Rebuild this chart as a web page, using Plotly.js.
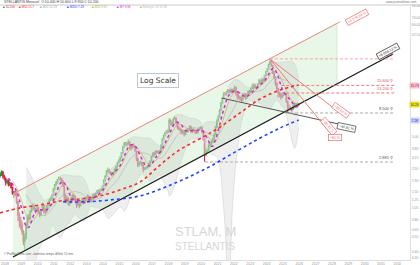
<!DOCTYPE html>
<html><head><meta charset="utf-8">
<script src="https://cdn.plot.ly/plotly-3.0.1.min.js"></script>
<style>html,body{margin:0;padding:0;background:#fff}#chart{width:420px;height:265px}</style>
</head><body><div id="chart"></div>
<script>
// ---------- DATA (monthly, STLAM, from Sep 2007) ----------
const startYear = 2007, startMonth = 9;
const firstOpen = 2.15;
const close = [
 2.20,2.32,2.10,2.02,
 1.85,1.90,1.75,1.80,1.65,1.45,1.40,1.48,1.20,0.90,0.80,0.72,
 0.62,0.50,0.55,0.72,0.85,0.82,0.98,1.05,1.10,1.02,0.98,1.05,
 0.95,0.90,1.00,1.12,0.98,0.96,1.10,1.12,1.25,1.30,1.38,1.60,
 1.75,1.85,1.95,2.05,2.00,1.90,1.70,1.35,1.25,1.30,1.15,1.18,
 1.30,1.38,1.35,1.22,1.12,1.15,1.10,1.20,1.25,1.18,1.25,1.30,
 1.35,1.28,1.22,1.30,1.40,1.38,1.45,1.52,1.50,1.55,1.58,1.70,
 1.92,2.10,2.35,2.40,2.30,2.25,2.20,2.30,2.45,2.60,2.85,3.00,
 3.20,3.55,4.00,4.35,4.25,4.40,4.45,4.10,3.95,4.20,4.05,3.70,
 3.10,2.70,2.80,2.85,2.70,2.45,2.50,2.55,2.60,2.80,2.95,3.25,
 3.50,3.40,3.65,3.60,3.55,3.70,4.20,4.80,5.20,5.50,5.70,5.60,
 7.20,6.90,6.60,7.50,7.60,6.80,6.20,6.00,5.90,5.50,5.70,5.30,
 5.60,5.90,5.80,6.30,5.60,5.90,5.80,5.60,5.50,5.90,6.10,6.20,
 5.60,4.80,3.50,3.60,3.70,4.10,4.30,4.50,4.80,5.30,6.20,7.20,
 7.80,9.00,10.50,11.80,13.00,12.80,13.50,14.00,13.40,14.20,13.60,14.30,
 14.80,13.20,12.20,11.90,11.70,11.30,12.50,12.80,11.80,12.90,13.70,13.40,
 14.60,15.50,15.80,14.90,14.60,16.10,17.50,16.50,17.80,17.20,19.50,21.20,
 22.50,24.80,26.20,24.00,20.50,18.50,16.30,14.50,13.20,12.80,12.00,12.60,
 12.80,12.80,11.00,9.60,9.20,9.50,9.30,10.00,10.30,10.00,10.40,10.20];
const high = [
 2.30,2.40,2.35,2.18,
 2.05,1.98,1.95,1.88,1.85,1.68,1.52,1.55,1.50,1.22,0.95,0.86,
 0.78,0.64,0.60,0.76,0.90,0.92,1.00,1.10,1.16,1.14,1.05,1.08,
 1.08,0.98,1.03,1.18,1.13,1.04,1.12,1.18,1.28,1.35,1.42,1.62,
 1.78,1.90,1.98,2.10,2.08,2.02,1.94,1.72,1.42,1.38,1.33,1.24,
 1.34,1.42,1.44,1.38,1.25,1.20,1.18,1.24,1.32,1.30,1.28,1.35,
 1.42,1.40,1.32,1.33,1.45,1.46,1.48,1.56,1.58,1.60,1.62,1.72,
 1.98,2.15,2.42,2.55,2.48,2.36,2.30,2.34,2.52,2.66,2.90,3.10,
 3.30,3.60,4.10,4.50,4.48,4.52,4.75,4.55,4.20,4.30,4.35,4.10,
 3.72,3.15,2.92,2.98,2.92,2.75,2.55,2.62,2.65,2.86,3.00,3.30,
 3.58,3.62,3.72,3.75,3.68,3.78,4.30,4.90,5.30,5.62,5.85,5.90,
 7.60,7.40,7.10,7.60,7.90,7.70,6.95,6.40,6.20,6.00,5.90,5.85,
 5.75,6.05,6.05,6.50,6.40,6.05,6.10,5.95,5.75,6.00,6.25,6.35,
 6.30,5.75,4.90,3.95,3.85,4.40,4.45,4.65,4.95,5.45,6.40,7.40,
 8.20,9.30,10.80,12.00,13.40,13.50,13.80,14.40,14.30,14.50,14.60,14.50,
 15.60,15.20,13.70,13.00,12.40,12.30,12.70,13.30,13.10,13.10,14.00,14.10,
 14.90,16.20,16.40,16.20,15.30,16.30,18.10,17.80,18.50,18.20,19.70,21.40,
 22.80,25.30,28.00,27.50,24.40,21.30,19.20,16.80,14.80,13.60,13.20,12.90,
 13.50,13.60,13.20,11.20,10.30,9.90,9.60,10.20,10.60,10.60,10.70,10.60];
const low = [
 2.05,2.12,2.00,1.92,
 1.72,1.78,1.68,1.70,1.60,1.40,1.30,1.36,1.15,0.78,0.68,0.65,
 0.58,0.46,0.42,0.52,0.70,0.78,0.80,0.95,1.00,0.98,0.92,0.96,
 0.92,0.85,0.88,0.98,0.93,0.90,0.94,1.05,1.08,1.22,1.25,1.36,
 1.55,1.70,1.78,1.92,1.92,1.80,1.66,1.20,1.16,1.18,1.10,1.10,
 1.16,1.26,1.30,1.18,1.05,1.08,1.04,1.08,1.17,1.14,1.15,1.22,
 1.28,1.24,1.18,1.18,1.28,1.32,1.35,1.42,1.44,1.46,1.50,1.55,
 1.66,1.85,2.05,2.25,2.22,2.18,2.10,2.12,2.25,2.30,2.55,2.78,
 2.90,3.15,3.45,3.90,4.10,4.05,4.20,3.80,3.70,3.85,3.95,3.62,
 2.95,2.58,2.62,2.74,2.62,2.30,2.40,2.45,2.48,2.55,2.70,2.90,
 3.20,3.30,3.35,3.50,3.40,3.45,3.65,4.10,4.60,5.05,5.35,5.40,
 5.55,6.50,6.30,6.50,7.30,6.60,5.90,5.80,5.60,5.30,5.35,5.05,
 5.20,5.50,5.55,5.75,5.50,5.45,5.60,5.35,5.35,5.40,5.80,5.95,
 5.50,4.60,2.90,3.30,3.45,3.60,4.00,4.20,4.40,4.70,5.20,6.10,
 7.00,7.60,8.90,10.40,11.70,12.40,12.50,13.30,13.10,13.30,13.00,13.20,
 13.90,12.40,11.30,11.60,11.20,10.80,11.00,12.20,11.40,11.60,12.70,12.90,
 13.30,14.40,14.20,14.60,14.10,14.50,16.00,16.20,16.40,16.60,16.90,19.20,
 20.90,22.20,24.50,23.50,20.00,18.10,15.50,13.50,11.90,12.10,11.40,11.80,
 12.30,12.50,10.60,8.50,9.00,9.00,8.80,9.30,9.60,9.60,9.70,9.90];

const yearTicks = [2008,2009,2010,2011,2012,2013,2014,2015,2016,2017,2018,2019,2020,2021,2022,2023,2024,2025,2026,2027,2028,2029,2030,2031,2032];
const priceTicks = [0.35,0.4,0.55,0.65,0.8,1.05,1.25,1.5,1.9,2.5,3.15,3.85,5,47.5,60,70,90];

// long moving averages (decimal year, value)
const ma50Dates = [2007.69,2008.92,2010.14,2011.36,2012.59,2013.81,2015.03,2016.26,2017.48,2018.58,2020.23,2021.15,2022.37,2023.60,2024.82,2025.96];
const ma50Vals  = [0.94,1.05,1.12,1.22,1.28,1.37,1.56,1.86,2.70,3.68,5.12,6.24,8.50,11.56,14.08,15.73];
const ma200Dates = [2011.55,2012.89,2014.42,2016.26,2018.28,2020.36,2022.19,2023.60,2024.82,2025.96];
const ma200Vals  = [1.20,1.20,1.25,1.37,1.78,2.53,3.68,4.89,6.10,7.28];

// drawn objects (decimal year, price)
const chanUpperDates = [2008.49, 2028.49], chanUpperVals = [1.43, 63.4];
const chanLowerDates = [2008.49, 2031.73], chanLowerVals = [0.356, 31.2];
const chanFillDates = [2008.49, 2028.31, 2028.31, 2008.49], chanFillVals = [1.43, 61.2, 16.1, 0.356];
const grayTrendDates = [2021.27, 2028.67], grayTrendVals = [11.8, 6.52];
const dropADates = [2024.20, 2028.49], dropAVals = [28.0, 8.5];
const dropBDates = [2024.20, 2027.88], dropBVals = [28.0, 5.47];
const levelVals  = [28.0, 15.6, 13.2, 8.5, 2.885];
const levelStart = [2024.2, 2024.9, 2024.9, 2025.13, 2020.23];
const levelColors = ['#f5a3a8','#f07a80','#f07a80','#aaaaaa','#aaaaaa'];
const levelEnd = 2031.85;

// ---------- derived series ----------
const t = close.map((_, i) => startYear + (startMonth - 1 + i) / 12 + 1/24);
const open = close.map((c, i) => i === 0 ? firstOpen : close[i-1]);
const hi = high.map((h, i) => Math.max(h, open[i], close[i]));
const lo = low.map((l, i) => Math.min(l, open[i], close[i]));
function sma(n){ return close.map((_, i) => { if (i < n-1) return null; let s=0; for(let k=i-n+1;k<=i;k++) s+=close[k]; return s/n; }); }
const ma7 = sma(7), ma10 = sma(10), ma20 = sma(20);
const bbU = [], bbL = [];
close.forEach((_, i) => {
  if (i < 19) { bbU.push(null); bbL.push(null); return; }
  const m = ma20[i]; let v = 0; for (let k=i-19;k<=i;k++) v += (close[k]-m)**2;
  const sd = Math.sqrt(v/20);
  bbU.push(m + 2*sd); bbL.push(Math.max(m - 2*sd, 0.05));
});
const tb = t.slice(19), bu = bbU.slice(19), bl = bbL.slice(19);

const L10 = Math.log10;
const traces = [
  {x: chanFillDates, y: chanFillVals, fill:'toself', fillcolor:'rgba(214,240,214,0.55)', line:{width:0.6, color:'rgba(190,225,190,0.9)'}, mode:'lines', hoverinfo:'skip'},
  {x: tb, y: bu, mode:'lines', line:{color:'#d2d2d2', width:0.6}, hoverinfo:'skip'},
  {x: tb, y: bl, mode:'lines', fill:'tonexty', fillcolor:'rgba(175,175,175,0.2)', line:{color:'#d2d2d2', width:0.6}, hoverinfo:'skip'},
  {x: chanUpperDates, y: chanUpperVals, mode:'lines', line:{color:'#f08a8a', width:1}, hoverinfo:'skip'},
  {x: chanLowerDates, y: chanLowerVals, mode:'lines', line:{color:'#1a1a1a', width:1.3}, hoverinfo:'skip'},
  {x: grayTrendDates, y: grayTrendVals, mode:'lines', line:{color:'#555', width:1}, hoverinfo:'skip'},
  {x: dropADates, y: dropAVals, mode:'lines', line:{color:'#f07070', width:0.9}, hoverinfo:'skip'},
  {x: dropBDates, y: dropBVals, mode:'lines', line:{color:'#f07070', width:0.9}, hoverinfo:'skip'}
];
levelVals.forEach((v, i) => traces.push({x:[levelStart[i], levelEnd], y:[v, v], mode:'lines', line:{color:levelColors[i], width:1, dash:'3px,2px'}, hoverinfo:'skip'}));
traces.push(
  {x: t, y: ma20, mode:'lines', line:{color:'#b0b0b0', width:0.6}, hoverinfo:'skip'},
  {x: t, y: ma10, mode:'lines', line:{color:'#b8b040', width:0.6}, hoverinfo:'skip'},
  {x: ma50Dates, y: ma50Vals, mode:'lines', line:{color:'#ff2a2a', width:1.6, dash:'dot', shape:'spline'}, hoverinfo:'skip'},
  {x: ma200Dates, y: ma200Vals, mode:'lines', line:{color:'#2040ff', width:1.6, dash:'dot', shape:'spline'}, hoverinfo:'skip'},
  {type:'candlestick', x: t, open: open, high: hi, low: lo, close: close,
   increasing:{line:{color:'#1f9a1f', width:1.1}, fillcolor:'#2fbf2f'},
   decreasing:{line:{color:'#e0184c', width:1.1}, fillcolor:'#f0285e'}, whiskerwidth:0, hoverinfo:'skip'},
  {x: t, y: ma7, mode:'lines', line:{color:'#e020e0', width:1.5, dash:'dot'}, hoverinfo:'skip'}
);

// ---------- annotations ----------
const W = 410, H = 255, TOP = 5;
const px = x => x / W, py = y => 1 - (y - TOP) / H;
const ann = [];
const last = close.length - 1;
ann.push({xref:'paper', yref:'paper', x:px(2), y:py(2), xanchor:'left', yanchor:'middle', showarrow:false,
  text:'STELLANTIS Mensuel  O:' + open[last].toFixed(3) + ' H:' + hi[last].toFixed(3) + ' L:' + lo[last].toFixed(3) + ' C:' + close[last].toFixed(3),
  font:{size:3.5, color:'#444', family:'Liberation Sans'}});
ann.push({xref:'paper', yref:'paper', x:px(419), y:py(2), xanchor:'right', yanchor:'middle', showarrow:false,
  text:'www.prorealtime.com', font:{size:3.2, color:'#777', family:'Liberation Sans'}});
const legendItems = [
  [1,'#2e8b2e','#d81b4a', close[last].toFixed(3)],
  [17,'#ff2a2a','#ff2a2a','M50 ' + ma50Vals[ma50Vals.length-1].toFixed(1)],
  [38,'#aaaaaa','#aaaaaa','M20 ' + ma20[last].toFixed(2)],
  [65,'#2040ff','#2040ff','M200 ' + ma200Vals[ma200Vals.length-1].toFixed(2)],
  [90,'#b8b040','#b8b040','M10 ' + ma10[last].toFixed(2)],
  [115,'#e020e0','#e020e0','M7 ' + ma7[last].toFixed(2)],
  [138,'#aaaaaa','#bbbbbb','Bollinger 20 ' + bbU[last].toFixed(2)]
];
legendItems.forEach(it => ann.push({xref:'paper', yref:'paper', x:px(it[0]), y:py(7.5), xanchor:'left', yanchor:'middle', showarrow:false,
  text:'<span style="color:' + it[1] + '">■</span> <span style="color:' + it[2] + '">' + it[3] + '</span>',
  font:{size:3, family:'Liberation Sans'}}));
ann.push({xref:'paper', yref:'paper', x:px(158), y:py(73), showarrow:false, text:'Log Scale',
  font:{size:7.5, color:'#333', family:'DejaVu Sans'}, bgcolor:'#fff', bordercolor:'#b8c8e0', borderwidth:1, borderpad:2});
ann.push({xref:'paper', yref:'paper', x:px(205), y:py(241), showarrow:false, text:'STLAM, M',
  font:{size:13, color:'#d6d6d6', family:'Liberation Sans'}});
ann.push({xref:'paper', yref:'paper', x:px(205), y:py(253.5), showarrow:false, text:'STELLANTIS',
  font:{size:10, color:'#d6d6d6', family:'Liberation Sans'}});
ann.push({xref:'paper', yref:'paper', x:px(2), y:py(257.5), xanchor:'left', showarrow:false,
  text:'© ProRealTime.com - données temps différé 15 min', font:{size:3, color:'#666', family:'Liberation Sans'}});
// level labels
levelVals.forEach((v, i) => ann.push({x:2031.85, y:L10(v), xanchor:'right', yanchor:'bottom', showarrow:false,
  text: v.toFixed(3) + ' ⚲', font:{size:4, color: i < 3 ? '#e05050' : '#555', family:'Liberation Sans'}}));
// rotated tags on drawn lines
const tag = (x, y, txt, ang, col) => ann.push({x:x, y:L10(y), showarrow:false, text:txt, textangle:ang,
  font:{size:3.6, color:col, family:'Liberation Sans'}, bgcolor:'#fff', bordercolor:col, borderwidth:0.7, borderpad:1});
tag(2029.5, 70, '+4 278.29 %', -28, '#f07070');
tag(2031.4, 33, '+8 664.12 %', -28, '#333');
tag(2028.9, 6.2, '−44.81 %', 12, '#444');
tag(2028.55, 8.9, '−69.64 %', 36, '#f07070');
tag(2027.8, 6.3, '−80.47 %', 50, '#f07070');
tag(2028.2, 4.95, '−80 %', 0, '#f07070');
// right axis value tags
const rtag = (v, bg, fg) => ann.push({xref:'paper', x:420/410, xanchor:'right', y:L10(v), showarrow:false, text:v.toFixed(2),
  font:{size:3.3, color:fg, family:'Liberation Sans'}, bgcolor:bg, borderpad:0.5});
rtag(ma50Vals[ma50Vals.length-1], '#f8c0cc', '#c00020');
rtag(close[last], '#f0e020', '#333');
rtag(ma200Vals[ma200Vals.length-1], '#c8d0ff', '#1030d0');

const layout = {
  width:420, height:265, margin:{l:0, r:10, t:5, b:5, pad:0},
  paper_bgcolor:'#fff', plot_bgcolor:'#fff', showlegend:false,
  xaxis:{type:'linear', range:[2007.694, 2032.771], tickvals:yearTicks, ticktext:yearTicks.map(String),
    tickfont:{size:3.5, color:'#999', family:'Liberation Sans'}, showgrid:false, zeroline:false,
    showline:true, linecolor:'#dddddd', ticks:'', rangeslider:{visible:false}, fixedrange:true},
  yaxis:{type:'log', side:'right', range:[-0.4776, 1.9626], tickvals:priceTicks,
    ticktext:priceTicks.map(v => v.toFixed(2)), tickfont:{size:3.5, color:'#999', family:'Liberation Sans'},
    showgrid:false, zeroline:false, showline:true, linecolor:'#e0e0e0', ticks:'', fixedrange:true},
  shapes:[{type:'line', xref:'paper', yref:'paper', x0:0, x1:1.025, y0:1, y1:1, line:{color:'#cccccc', width:1}}],
  annotations: ann
};
Plotly.newPlot('chart', traces, layout, {displayModeBar:false, staticPlot:true});
</script></body></html>
